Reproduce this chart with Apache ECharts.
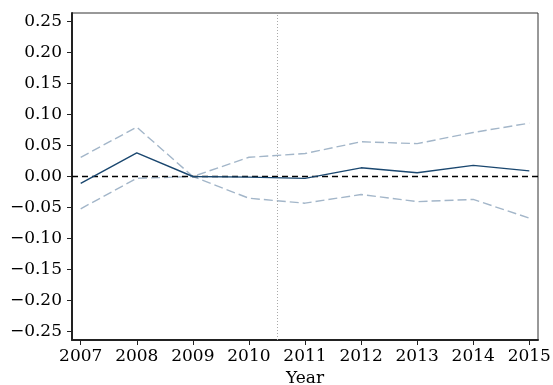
<!DOCTYPE html>
<html><head><meta charset="utf-8">
<script src="https://cdn.jsdelivr.net/npm/echarts@6/dist/echarts.min.js"></script>
<style>html,body{margin:0;padding:0;background:#fff}#c{width:553px;height:385px}</style>
</head><body><div id="c"></div>
<script>
var years = [2007, 2008, 2009, 2010, 2011, 2012, 2013, 2014, 2015];
var estimate = [-0.011, 0.038, 0.0, -0.001, -0.003, 0.014, 0.006, 0.018, 0.009];
var upperCI = [0.031, 0.0795, 0.0, 0.031, 0.037, 0.056, 0.053, 0.071, 0.086];
var lowerCI = [-0.052, -0.003, 0.0, -0.035, -0.043, -0.029, -0.0405, -0.037, -0.067];
var yTicks = [-0.25, -0.20, -0.15, -0.10, -0.05, 0.00, 0.05, 0.10, 0.15, 0.20, 0.25];
var xTitle = 'Year';
var treatmentLine = 2010.5;

function pairs(v){ return years.map(function(y,i){ return [y, v[i]]; }); }
var font = 'DejaVu Serif';
var chart = echarts.init(document.getElementById('c'));
chart.setOption({
  animation: false,
  grid: {left: 72, right: 15, top: 13, bottom: 45, show: true, borderColor: '#333', borderWidth: 1,
         containLabel: false, outerBoundsMode: 'none'},
  xAxis: {
    type: 'value', min: 2006.845, max: 2015.155,
    name: xTitle, nameLocation: 'middle', nameGap: 30,
    nameTextStyle: {fontFamily: font, fontSize: 17, color: '#000'},
    axisLine: {show: true, onZero: false, lineStyle: {color: '#222', width: 2}},
    axisTick: {show: true, length: 5, customValues: years, lineStyle: {color: '#222'}},
    axisLabel: {customValues: years, fontFamily: font, fontSize: 17, color: '#000', margin: 8,
      formatter: function(v){ return String(Math.round(v)); }},
    splitLine: {show: false}
  },
  yAxis: {
    type: 'value', min: -0.2635, max: 0.2635,
    axisLine: {show: true, onZero: false, lineStyle: {color: '#222', width: 2}},
    axisTick: {show: true, length: 5, customValues: yTicks, lineStyle: {color: '#222'}},
    axisLabel: {customValues: yTicks, fontFamily: font, fontSize: 17, color: '#000', margin: 10,
      formatter: function(v){ return (v < 0 ? '\u2212' : '') + Math.abs(v).toFixed(2); }},
    splitLine: {show: false}
  },
  series: [
    {type: 'line', data: pairs(upperCI), symbol: 'none',
     lineStyle: {color: '#a3b6c9', width: 1.4, type: [9, 4]}},
    {type: 'line', data: pairs(lowerCI), symbol: 'none',
     lineStyle: {color: '#a3b6c9', width: 1.4, type: [9, 4]}},
    {type: 'line', data: pairs(estimate), symbol: 'none', z: 5,
     lineStyle: {color: '#1a476f', width: 1.4},
     markLine: {silent: true, symbol: 'none', label: {show: false},
       data: [
         {yAxis: 0, lineStyle: {color: '#000', type: [6, 4], width: 1.4}},
         {xAxis: treatmentLine, lineStyle: {color: '#aaa', type: [1, 2], width: 1}}
       ]}}
  ]
});
</script></body></html>
